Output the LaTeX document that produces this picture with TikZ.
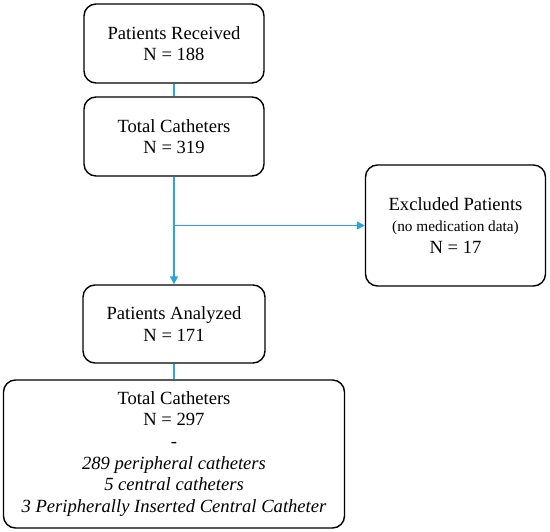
\documentclass[tikz,border=0pt]{standalone}
\usepackage{fontspec}
\setmainfont{Liberation Serif}
\usetikzlibrary{arrows.meta}
\definecolor{linkblue}{RGB}{41,165,222}
\tikzset{
  box/.style={draw=black, line width=1.4pt, rounded corners=12pt, align=center,
    inner sep=0pt, font=\fontsize{18.6}{21.7}\selectfont},
  link/.style={draw=linkblue, line width=1.3pt},
  arrowlink/.style={link, -{Triangle[length=8pt,width=8pt]}}
}
\begin{document}
\begin{tikzpicture}[x=1pt,y=-1pt]
\useasboundingbox (0,0) rectangle (550,532);
\node[box, minimum width=180pt, minimum height=79pt] (recv) at (174,43.5) {Patients Received\\N = 188};
\node[box, minimum width=180pt, minimum height=79pt] (tot1) at (174,136.5) {Total Catheters\\N = 319};
\node[box, minimum width=180pt, minimum height=121pt] (excl) at (455.5,225.5) {Excluded Patients\\{\fontsize{15.3}{21.5}\selectfont (no medication data)}\\N = 17};
\node[box, minimum width=182pt, minimum height=78pt] (anal) at (174,324) {Patients Analyzed\\N = 171};
\node[box, minimum width=341pt, minimum height=148pt] (tot2) at (174,454) {Total Catheters\\N = 297\\-\\\textit{289 peripheral catheters}\\\textit{5 central catheters}\\\textit{3 Peripherally Inserted Central Catheter}};
\coordinate (branch) at (174,225.5);
\draw[link] (recv.south) -- (tot1.north);
\draw[arrowlink] (tot1.south) -- (anal.north);
\draw[arrowlink] (branch) -- (excl.west);
\draw[link] (anal.south) -- (tot2.north);
\end{tikzpicture}
\end{document}
